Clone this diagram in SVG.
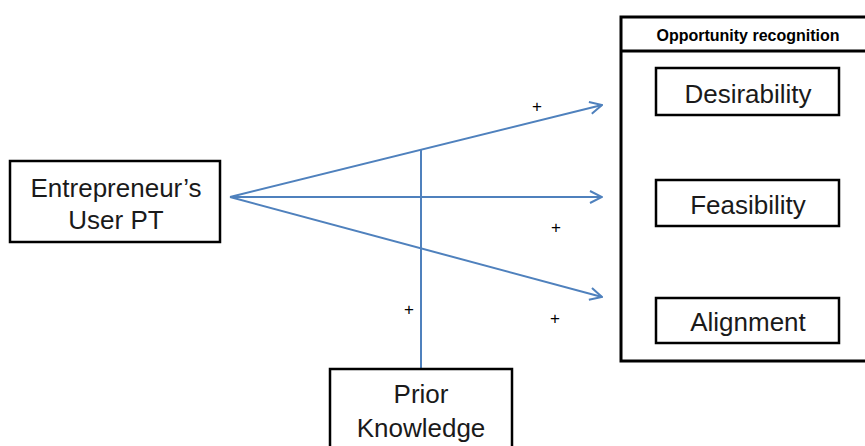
<svg xmlns="http://www.w3.org/2000/svg" width="865" height="446" viewBox="0 0 865 446">
<defs>
<style>
.box{fill:#fff;stroke:#000;stroke-width:2.5}
.lbl{font-family:"Liberation Sans",Arial,sans-serif;font-size:26px;fill:#1a1a1a;text-anchor:middle}
.hdr{font-family:"Liberation Sans",Arial,sans-serif;font-size:16px;font-weight:bold;fill:#000;text-anchor:middle}
.plus{font-family:"Liberation Sans",Arial,sans-serif;font-size:17px;fill:#000;text-anchor:middle}
.conn{fill:none;stroke:#4F81BD;stroke-width:2}
</style>
<marker id="arr" viewBox="0 0 14 14" refX="13" refY="7" markerWidth="14" markerHeight="14" markerUnits="userSpaceOnUse" orient="auto">
<path d="M1,1 L13,7 L1,13" fill="none" stroke="#4F81BD" stroke-width="2"/>
</marker>
</defs>
<rect width="865" height="446" fill="#fff"/>
<g id="connectors">
<line class="conn" x1="230" y1="197" x2="602" y2="105" marker-end="url(#arr)"/>
<line class="conn" x1="230" y1="197" x2="602" y2="197" marker-end="url(#arr)"/>
<line class="conn" x1="230" y1="197" x2="602" y2="297" marker-end="url(#arr)"/>
<line class="conn" x1="421" y1="150" x2="421" y2="369"/>
<text class="plus" x="537" y="112">+</text>
<text class="plus" x="556" y="233">+</text>
<text class="plus" x="409" y="315">+</text>
<text class="plus" x="555" y="324">+</text>
</g>
<g id="opportunity-recognition">
<rect x="621" y="17" width="250" height="344" fill="#fff" stroke="#000" stroke-width="3"/>
<line x1="621" y1="51" x2="866" y2="51" stroke="#000" stroke-width="3"/>
<text class="hdr" x="748" y="41">Opportunity recognition</text>
</g>
<g id="desirability">
<rect class="box" x="656" y="68" width="183" height="47"/>
<text class="lbl" x="748" y="103">Desirability</text>
</g>
<g id="feasibility">
<rect class="box" x="656" y="180" width="183" height="46"/>
<text class="lbl" x="748" y="214">Feasibility</text>
</g>
<g id="alignment">
<rect class="box" x="656" y="298" width="183" height="45"/>
<text class="lbl" x="748" y="331">Alignment</text>
</g>
<g id="entrepreneur">
<rect class="box" x="10" y="161" width="210" height="81"/>
<text class="lbl" x="116" y="197">Entrepreneur’s</text>
<text class="lbl" x="116" y="229">User PT</text>
</g>
<g id="prior-knowledge">
<rect class="box" x="330" y="369" width="182" height="90"/>
<text class="lbl" x="421" y="403">Prior</text>
<text class="lbl" x="421" y="437">Knowledge</text>
</g>
</svg>
